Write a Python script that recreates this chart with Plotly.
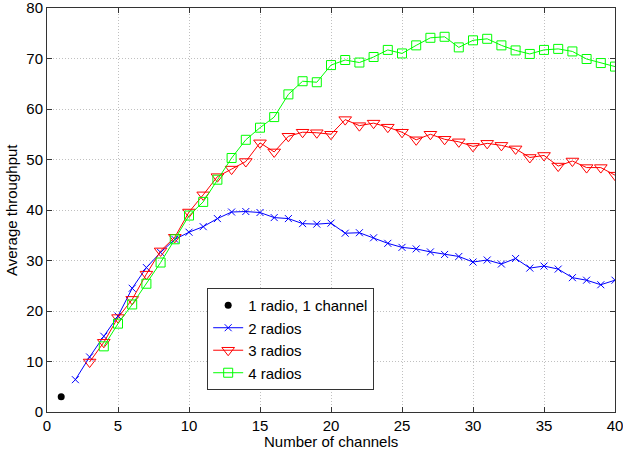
import plotly.graph_objects as go

x1 = [1]
y1 = [3.0]

x2 = list(range(2, 41))
y2 = [6.4, 10.9, 15.0, 19.0, 24.5, 28.6, 31.6, 34.2, 35.6, 36.7, 38.3, 39.6, 39.7, 39.5,
      38.5, 38.3, 37.3, 37.2, 37.4, 35.4, 35.5, 34.5, 33.4, 32.6, 32.3, 31.7, 31.2, 30.8,
      29.7, 30.1, 29.3, 30.4, 28.5, 28.9, 28.3, 26.6, 26.1, 25.2, 26.1]

x3 = list(range(3, 41))
y3 = [9.9, 13.8, 18.7, 22.3, 27.3, 31.9, 34.6, 39.6, 43.0, 46.6, 48.1, 49.6, 53.3, 51.5,
      54.6, 55.4, 55.3, 55.0, 57.9, 56.7, 57.2, 56.4, 55.4, 53.9, 55.0, 54.0, 53.5, 52.6,
      53.2, 52.8, 52.1, 50.4, 50.8, 48.7, 49.7, 48.4, 48.4, 46.9]

x4 = list(range(4, 41))
y4 = [13.0, 17.5, 21.3, 25.4, 29.6, 34.2, 38.9, 41.6, 46.0, 50.3, 53.9, 56.3, 58.4, 62.9,
      65.5, 65.3, 68.7, 69.7, 69.2, 70.3, 71.7, 71.0, 72.6, 74.1, 74.3, 72.2, 73.6, 73.9,
      72.6, 71.6, 70.9, 71.7, 71.9, 71.4, 69.9, 69.1, 68.4]

names = ["1 radio, 1 channel", "2 radios", "3 radios", "4 radios"]
x_title = "Number of channels"
y_title = "Average throughput"

font = "Liberation Sans, Arial, sans-serif"
fs = 15

fig = go.Figure()
fig.add_trace(go.Scatter(x=x1, y=y1, mode="markers", name=names[0],
                         marker=dict(color="black", size=7, symbol="circle")))
fig.add_trace(go.Scatter(x=x2, y=y2, mode="lines+markers", name=names[1],
                         line=dict(color="#0000ff", width=1),
                         marker=dict(color="#0000ff", size=7, symbol="x-thin-open",
                                     line=dict(color="#0000ff", width=1))))
fig.add_trace(go.Scatter(x=x3, y=y3, mode="lines+markers", name=names[2],
                         line=dict(color="#ff0000", width=1),
                         marker=dict(color="#ff0000", size=11, symbol="triangle-down-open",
                                     line=dict(color="#ff0000", width=1))))
fig.add_trace(go.Scatter(x=x4, y=y4, mode="lines+markers", name=names[3],
                         line=dict(color="#00ff00", width=1),
                         marker=dict(color="#00ff00", size=9, symbol="square-open",
                                     line=dict(color="#00ff00", width=1))))

axis_common = dict(showline=True, mirror="ticks", linecolor="#333333", linewidth=1,
                   showgrid=True, gridcolor="#c0c0c0", griddash="1px,2px", gridwidth=1,
                   ticks="inside", ticklen=5, tickcolor="#333333", zeroline=False,
                   automargin=False, ticklabeloverflow="allow",
                   tickfont=dict(family=font, size=fs, color="black"))

fig.update_xaxes(range=[0, 40], dtick=5, tick0=0, **axis_common)
fig.update_yaxes(range=[0, 80], dtick=10, tick0=0, **axis_common)

fig.add_annotation(text=x_title, xref="paper", yref="paper", x=0.5, y=0,
                   xanchor="center", yanchor="middle", yshift=-29, showarrow=False,
                   font=dict(family=font, size=fs, color="black"))
fig.add_annotation(text=y_title, xref="paper", yref="paper", x=0, y=0.5,
                   xanchor="center", yanchor="middle", xshift=-36, textangle=-90,
                   showarrow=False, font=dict(family=font, size=fs, color="black"))

fig.update_layout(
    width=623, height=459,
    margin=dict(l=47, r=8, t=8, b=47, autoexpand=False),
    paper_bgcolor="white", plot_bgcolor="white",
    font=dict(family=font, size=fs, color="black"),
    showlegend=True,
    legend=dict(x=0.282, y=0.307, xanchor="left", yanchor="top",
                bgcolor="white", bordercolor="#333333", borderwidth=1,
                font=dict(family=font, size=fs, color="black"),
                itemwidth=30),
)

fig.write_html("out.html", config={"displayModeBar": False},
               post_script="document.body.style.margin='0';document.body.style.overflow='hidden';")
